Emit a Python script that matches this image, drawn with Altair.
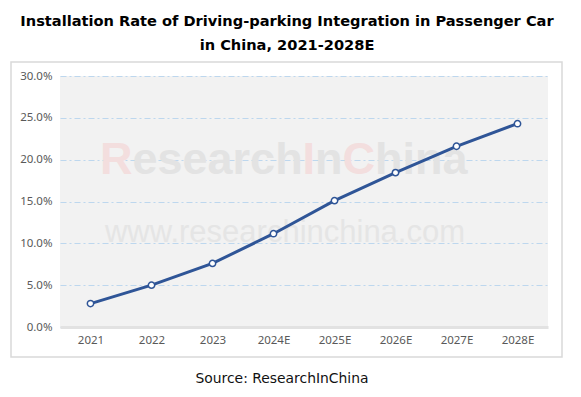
import altair as alt
import pandas as pd

# ---- data ----
years = ["2021", "2022", "2023", "2024E", "2025E", "2026E", "2027E", "2028E"]
rates = [0.028, 0.050, 0.076, 0.1115, 0.151, 0.1845, 0.216, 0.243]
y_ticks = [0.0, 0.05, 0.10, 0.15, 0.20, 0.25, 0.30]
title_lines = ["Installation Rate of Driving-parking Integration in Passenger Car",
               "in China, 2021-2028E"]
source_text = "Source: ResearchInChina"
wm_segments = ["R", "esearch", "I", "n", "C", "hina"]
wm_pink = [True, False, True, False, True, False]
wm_url = "www.researchinchina.com"

df = pd.DataFrame({"year": years, "rate": rates})
one = pd.DataFrame({"a": [0]})

LINE = "#2f5597"
W, H = 488, 251

x_enc = alt.X("year:N", sort=years, title=None,
              axis=alt.Axis(labelAngle=0, ticks=False, grid=False,
                            domainColor="#e2e2e2", domainWidth=3,
                            labelColor="#595959", labelFont="Noto Sans",
                            labelFontSize=11.5, labelPadding=7))
y_enc = alt.Y("rate:Q", title=None,
              scale=alt.Scale(domain=[0, 0.30], nice=False),
              axis=alt.Axis(values=y_ticks, format=".1%", domain=False, ticks=False,
                            grid=True, gridColor="#bdd7ee", gridDash=[6, 3, 2, 3],
                            gridWidth=1, labelColor="#595959", labelFont="Noto Sans",
                            labelFontSize=11.5, labelPadding=8))

# outer frame
frame = alt.Chart(one).mark_rect(fill=None, stroke="#d9d9d9", strokeWidth=1.5).encode(
    x=alt.value(-49), x2=alt.value(502), y=alt.value(-14), y2=alt.value(281))

# watermark (letter widths of Arial Bold, em)
arial_bold = {"R": .722, "e": .556, "s": .556, "a": .556, "r": .389, "c": .556,
              "h": .611, "I": .278, "n": .611, "C": .722, "i": .278}
wm_fs = 45
wm_layers = []
cursor = 40.0
for seg, pink in zip(wm_segments, wm_pink):
    wm_layers.append(
        alt.Chart(one).mark_text(align="left", baseline="alphabetic", fontSize=wm_fs,
                                 font="Liberation Sans", fontWeight="bold",
                                 color="#f3dede" if pink else "#e3e3e3").encode(
            x=alt.value(cursor), y=alt.value(98), text=alt.value(seg)))
    cursor += sum(arial_bold[c] for c in seg) * wm_fs
wm_url_layer = alt.Chart(one).mark_text(align="center", baseline="middle", fontSize=31,
                                        font="Liberation Sans", color="#e5e5e5").encode(
    x=alt.value(225), y=alt.value(157), text=alt.value(wm_url))

line = alt.Chart(df).mark_line(color=LINE, strokeWidth=3).encode(x=x_enc, y=y_enc)
points = alt.Chart(df).mark_point(filled=True, fill="white", stroke=LINE, strokeWidth=1.5,
                                  size=40, opacity=1).encode(x=x_enc, y=y_enc)

t1 = alt.Chart(one).mark_text(align="center", baseline="alphabetic", fontSize=14.6,
                              font="DejaVu Sans", fontWeight="bold", color="#000000").encode(
    x=alt.value(227), y=alt.value(-50), text=alt.value(title_lines[0]))
t2 = alt.Chart(one).mark_text(align="center", baseline="alphabetic", fontSize=14.6,
                              font="DejaVu Sans", fontWeight="bold", color="#000000").encode(
    x=alt.value(227), y=alt.value(-26), text=alt.value(title_lines[1]))
src = alt.Chart(one).mark_text(align="center", baseline="alphabetic", fontSize=13.9,
                               font="DejaVu Sans", color="#111111").encode(
    x=alt.value(222), y=alt.value(307), text=alt.value(source_text))

chart = alt.layer(frame, *wm_layers, wm_url_layer, line, points, t1, t2, src).properties(
    width=W, height=H,
    autosize=alt.AutoSizeParams(type="none"),
    padding={"left": 52, "top": 68, "right": 25, "bottom": 60},
    background="white",
).configure_view(fill="#f2f2f2", strokeWidth=0)

chart.save("out.html", embed_options={"renderer": "svg", "actions": False})
